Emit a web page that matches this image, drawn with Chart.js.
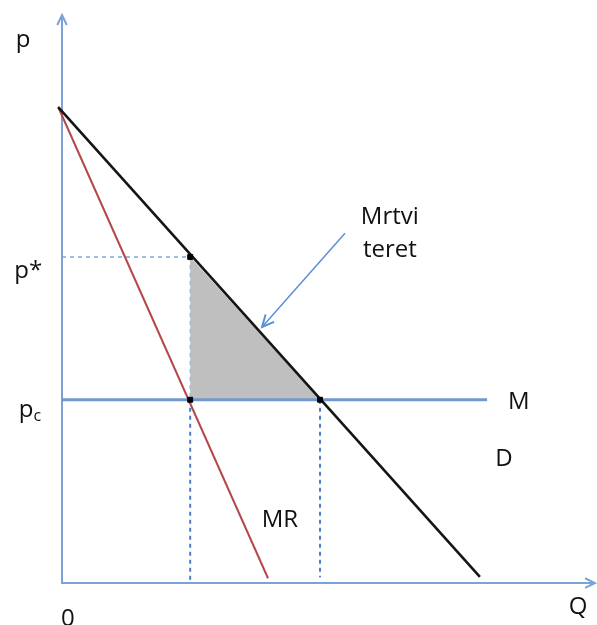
<!DOCTYPE html>
<html>
<head>
<meta charset="utf-8">
<script src="https://cdn.jsdelivr.net/npm/chart.js@4.4.1/dist/chart.umd.min.js"></script>
<style>
  html, body { margin: 0; padding: 0; background: #fff; }
  #wrap { width: 597px; height: 625px; }
</style>
</head>
<body>
<div id="wrap"><canvas id="myChart" width="597" height="625"></canvas></div>
<script>
// values (Q on x, p on y)
var demandLine = [{x: -0.09, y: 10.0}, {x: 9.88, y: 0.13}];
var mrLine = [{x: -0.09, y: 10.0}, {x: 4.87, y: 0.1}];
var mcLevel = 3.85;      // M
var mcEnd = 10.05;
var qMonopoly = 3.03;
var pMonopoly = 6.85;    // p*
var qCompetitive = 6.1;
var axisEnds = {q: 12.6, p: 11.93};
var calloutLine = [{x: 6.69, y: 7.35}, {x: 4.73, y: 5.38}];

// text, with where it sits (data units)
var labelSpots = [
    {text: 'p', x: -0.92, y: 11.4},
    {text: 'p*', x: -0.8, y: 6.55},
    {text: 'p', sub: 'c', x: -0.85, y: 3.63},
    {text: '0', x: 0.14, y: -0.76},
    {text: 'Q', x: 12.2, y: -0.5},
    {text: 'M', x: 10.8, y: 3.8},
    {text: 'D', x: 10.45, y: 2.6},
    {text: 'MR', x: 5.15, y: 1.32},
    {text: 'Mrtvi', x: 7.75, y: 7.68},
    {text: 'teret', x: 7.75, y: 7.0}
];

var AXIS_BLUE = '#7aa2d8';
var FONT = '24px "Open Sans", "Liberation Sans", sans-serif';
var SUB_FONT = '16px "Open Sans", "Liberation Sans", sans-serif';

function arrowHead(ctx, x1, y1, x2, y2, len, color, width) {
    var a = Math.atan2(y2 - y1, x2 - x1);
    ctx.save();
    ctx.strokeStyle = color;
    ctx.lineWidth = width;
    ctx.beginPath();
    ctx.moveTo(x2 - len * Math.cos(a - 0.45), y2 - len * Math.sin(a - 0.45));
    ctx.lineTo(x2, y2);
    ctx.lineTo(x2 - len * Math.cos(a + 0.45), y2 - len * Math.sin(a + 0.45));
    ctx.stroke();
    ctx.restore();
}

var extras = {
    id: 'extras',
    afterDatasetsDraw: function(chart) {
        var ctx = chart.ctx;
        var xs = chart.scales.x, ys = chart.scales.y;

        // arrow heads on the axes and on the callout
        arrowHead(ctx, xs.getPixelForValue(0), ys.getPixelForValue(0),
                  xs.getPixelForValue(0), ys.getPixelForValue(axisEnds.p), 11, AXIS_BLUE, 2);
        arrowHead(ctx, xs.getPixelForValue(0), ys.getPixelForValue(0),
                  xs.getPixelForValue(axisEnds.q), ys.getPixelForValue(0), 11, AXIS_BLUE, 2);
        arrowHead(ctx, xs.getPixelForValue(calloutLine[0].x), ys.getPixelForValue(calloutLine[0].y),
                  xs.getPixelForValue(calloutLine[1].x), ys.getPixelForValue(calloutLine[1].y), 13, '#5b8fd6', 2);

        ctx.save();
        ctx.fillStyle = '#111';
        ctx.textAlign = 'center';
        ctx.textBaseline = 'middle';
        for (var i = 0; i < labelSpots.length; ++i) {
            var l = labelSpots[i];
            var px = xs.getPixelForValue(l.x);
            var py = ys.getPixelForValue(l.y);
            ctx.font = FONT;
            ctx.fillText(l.text, px, py);
            if (l.sub) {
                var w = ctx.measureText(l.text).width;
                ctx.font = SUB_FONT;
                ctx.textAlign = 'left';
                ctx.fillText(l.sub, px + w / 2, py + 6);
                ctx.textAlign = 'center';
            }
        }
        ctx.restore();
    }
};

var datasets = [
    {   // dead weight loss triangle
        data: [{x: qMonopoly, y: pMonopoly}, {x: qMonopoly, y: mcLevel},
               {x: qCompetitive, y: mcLevel}, {x: qMonopoly, y: pMonopoly}],
        showLine: true, fill: 'shape', backgroundColor: '#bfbfbf',
        borderWidth: 0, pointRadius: 0, order: 10
    },
    {   // p* guide
        data: [{x: 0, y: pMonopoly}, {x: qMonopoly, y: pMonopoly}],
        showLine: true, borderColor: '#9dbae3', borderWidth: 2, borderDash: [4, 4],
        pointRadius: 0, order: 9
    },
    {
        data: [{x: qMonopoly, y: pMonopoly}, {x: qMonopoly, y: mcLevel}],
        showLine: true, borderColor: '#a9bcd6', borderWidth: 1.5, borderDash: [4, 4],
        pointRadius: 0, order: 9
    },
    {
        data: [{x: qMonopoly, y: mcLevel}, {x: qMonopoly, y: 0}],
        showLine: true, borderColor: '#4a7cc9', borderWidth: 2, borderDash: [4, 4],
        pointRadius: 0, order: 9
    },
    {
        data: [{x: qCompetitive, y: mcLevel}, {x: qCompetitive, y: 0.12}],
        showLine: true, borderColor: '#4a7cc9', borderWidth: 2, borderDash: [4, 4],
        pointRadius: 0, order: 9
    },
    {   // axes
        data: [{x: 0, y: axisEnds.p}, {x: 0, y: 0}, {x: axisEnds.q, y: 0}],
        showLine: true, borderColor: AXIS_BLUE, borderWidth: 2,
        pointRadius: 0, order: 8
    },
    {   // callout
        data: calloutLine,
        showLine: true, borderColor: '#5b8fd6', borderWidth: 1.5,
        pointRadius: 0, order: 8
    },
    {   // M
        data: [{x: 0, y: mcLevel}, {x: mcEnd, y: mcLevel}],
        showLine: true, borderColor: '#7098d0', borderWidth: 3,
        pointRadius: 0, order: 5
    },
    {   // MR
        data: mrLine,
        showLine: true, borderColor: '#b5474b', borderWidth: 2,
        pointRadius: 0, order: 4
    },
    {   // D
        data: demandLine,
        showLine: true, borderColor: '#151515', borderWidth: 2.6,
        pointRadius: 0, order: 3
    },
    {   // marked points
        data: [{x: qMonopoly, y: pMonopoly}, {x: qMonopoly, y: mcLevel}, {x: qCompetitive, y: mcLevel}],
        showLine: false, pointStyle: 'rect', pointRadius: 3.5,
        backgroundColor: '#000', borderColor: '#000', order: 1
    }
];

ctx = document.getElementById("myChart");
myChart = new Chart(ctx, {
    type: 'scatter',
    data: {datasets: datasets},
    options: {
        responsive: false,
        animation: false,
        devicePixelRatio: 1,
        layout: {padding: 0, autoPadding: false},
        plugins: {legend: {display: false}, tooltip: {enabled: false}},
        elements: {line: {tension: 0}},
        scales: {
            x: {type: 'linear', display: false, min: -1.466, max: 12.648},
            y: {type: 'linear', display: false, min: -0.882, max: 12.248}
        }
    },
    plugins: [extras]
});
</script>
</body>
</html>
